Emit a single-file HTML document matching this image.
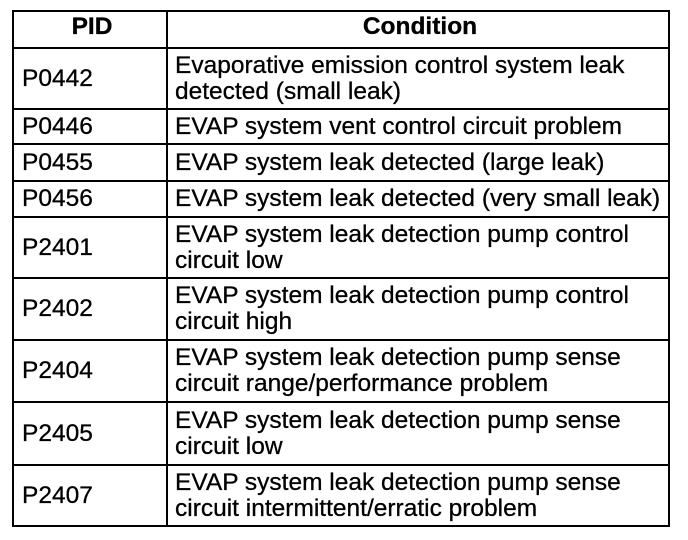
<!DOCTYPE html>
<html>
<head>
<meta charset="utf-8">
<style>
  html, body { margin:0; padding:0; background:#fff; }
  body { width:688px; height:540px; position:relative; overflow:hidden;
         font-family:"Liberation Sans", Arial, sans-serif; color:#000; }
  .h { position:absolute; background:#000; height:2px; left:12px; width:658px; }
  .v { position:absolute; background:#000; width:2px; top:10px; height:517px; }
  .c { position:absolute; display:flex; align-items:center; font-size:24.5px; line-height:26px; white-space:nowrap; -webkit-text-stroke:0.3px #000; }
  .pid { left:22px; width:140px; }
  .cond { left:175px; width:492px; }
  .hd { font-weight:bold; justify-content:center; }
</style>
</head>
<body>
  <!-- horizontal lines -->
  <div class="h" style="top:10px"></div>
  <div class="h" style="top:47px"></div>
  <div class="h" style="top:108px"></div>
  <div class="h" style="top:143px"></div>
  <div class="h" style="top:180px"></div>
  <div class="h" style="top:216px"></div>
  <div class="h" style="top:277px"></div>
  <div class="h" style="top:339px"></div>
  <div class="h" style="top:401px"></div>
  <div class="h" style="top:464px"></div>
  <div class="h" style="top:525px"></div>
  <!-- vertical lines -->
  <div class="v" style="left:12px"></div>
  <div class="v" style="left:166px"></div>
  <div class="v" style="left:668px"></div>

  <!-- header -->
  <div class="c hd" style="left:14px;width:156px;top:10px;height:34px;">PID</div>
  <div class="c hd" style="left:168px;width:504px;top:10px;height:34px;">Condition</div>

  <!-- rows -->
  <div class="c pid" style="top:49px;height:59px;">P0442</div>
  <div class="c cond" style="top:49px;height:59px;">Evaporative emission control system leak<br>detected (small leak)</div>

  <div class="c pid" style="top:110px;height:33px;">P0446</div>
  <div class="c cond" style="top:110px;height:33px;">EVAP system vent control circuit problem</div>

  <div class="c pid" style="top:145px;height:35px;">P0455</div>
  <div class="c cond" style="top:145px;height:35px;">EVAP system leak detected (large leak)</div>

  <div class="c pid" style="top:182px;height:34px;">P0456</div>
  <div class="c cond" style="top:182px;height:34px;">EVAP system leak detected (very small leak)</div>

  <div class="c pid" style="top:218px;height:59px;">P2401</div>
  <div class="c cond" style="top:218px;height:59px;">EVAP system leak detection pump control<br>circuit low</div>

  <div class="c pid" style="top:279px;height:60px;">P2402</div>
  <div class="c cond" style="top:279px;height:60px;">EVAP system leak detection pump control<br>circuit high</div>

  <div class="c pid" style="top:341px;height:60px;">P2404</div>
  <div class="c cond" style="top:341px;height:60px;">EVAP system leak detection pump sense<br>circuit range/performance problem</div>

  <div class="c pid" style="top:403px;height:61px;">P2405</div>
  <div class="c cond" style="top:403px;height:61px;">EVAP system leak detection pump sense<br>circuit low</div>

  <div class="c pid" style="top:466px;height:59px;">P2407</div>
  <div class="c cond" style="top:466px;height:59px;">EVAP system leak detection pump sense<br>circuit intermittent/erratic problem</div>
</body>
</html>
